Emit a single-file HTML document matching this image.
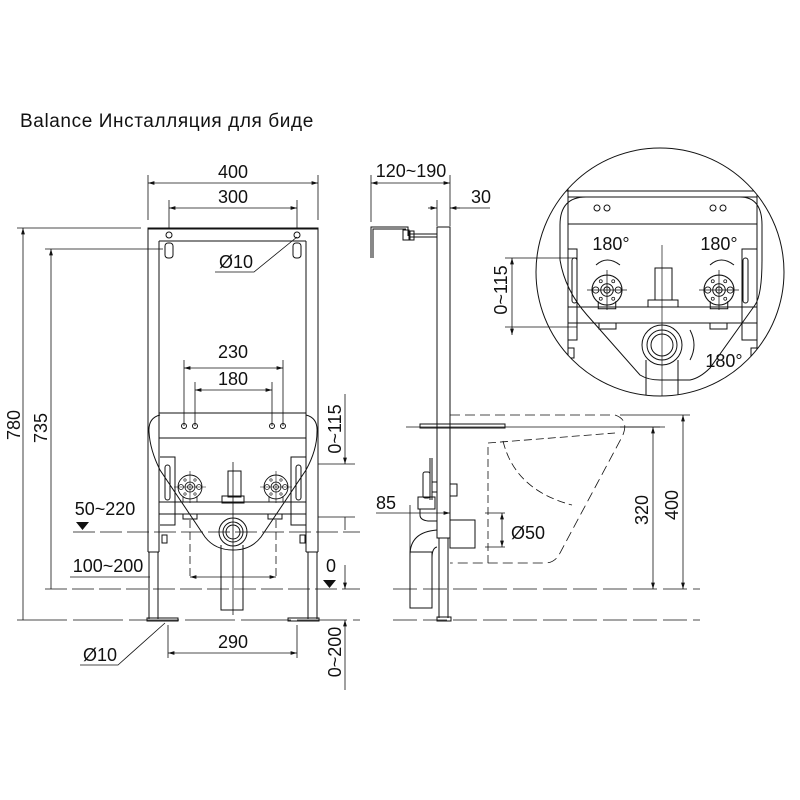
<!DOCTYPE html>
<html><head><meta charset="utf-8"><style>
html,body{margin:0;padding:0;background:#fff}
svg{display:block}
text{font-family:"Liberation Sans","DejaVu Sans",sans-serif;fill:#111}
</style></head><body>
<svg width="800" height="800" viewBox="0 0 800 800" xmlns="http://www.w3.org/2000/svg">
<defs>
<marker id="a" viewBox="0 0 10 6" refX="10" refY="3" markerWidth="8" markerHeight="5" orient="auto-start-reverse"><path d="M0,0L10,3L0,6z" fill="#111"/></marker>
<g id="fit">
<circle r="12" fill="none" stroke="#111" stroke-width="0.9"/>
<circle r="5" fill="none" stroke="#111" stroke-width="0.8"/><circle r="2.5" fill="none" stroke="#111" stroke-width="0.8"/>
<circle cx="-9" r="2.5" fill="none" stroke="#111" stroke-width="0.7"/><circle cx="9" r="2.5" fill="none" stroke="#111" stroke-width="0.7"/>
<circle cx="-5" cy="-7" r="1.2" fill="none" stroke="#111" stroke-width="0.6"/><circle cx="5" cy="-7" r="1.2" fill="none" stroke="#111" stroke-width="0.6"/>
<circle cx="-5" cy="7" r="1.2" fill="none" stroke="#111" stroke-width="0.6"/><circle cx="5" cy="7" r="1.2" fill="none" stroke="#111" stroke-width="0.6"/>
<path d="M-16,0H16M0,-16V16" stroke="#111" stroke-width="0.6"/>
<path d="M-7,9V15H7V9" fill="none" stroke="#111" stroke-width="0.8"/>
</g>
<clipPath id="cc"><circle cx="660" cy="272" r="124"/></clipPath>
</defs>
<text x="20" y="127" font-size="19" letter-spacing="0.6">Balance Инсталляция для биде</text>

<g fill="none" stroke="#111" stroke-width="1">
<rect x="148" y="228" width="170" height="1"/>
<path d="M148,228V552M159,241V552M306,241V552M318,228V552M148,552H159M306,552H318"/>
<path d="M159,241H306M148,228H318"/>
<path d="M149,552V619M158,552V619M308,552V619M317,552V619"/>
<rect x="147" y="618" width="31" height="3"/><rect x="288" y="618" width="31" height="3"/>
<circle cx="169" cy="235" r="3"/><circle cx="297" cy="235" r="3"/>
<rect x="165" y="243" width="8" height="15" rx="3"/><rect x="293" y="243" width="8" height="15" rx="3"/>
<path d="M159,413H306M159,438H306"/>
<circle cx="184" cy="426" r="2.5"/><circle cx="195" cy="426" r="2.5"/><circle cx="272" cy="426" r="2.5"/><circle cx="283" cy="426" r="2.5"/>
<path d="M160,415Q148,418 149,432Q150,450 160,470L205,537Q215,550 233,550Q251,550 261,537L306,470Q317,450 317,432Q318,418 306,415"/>
<path d="M160,457H175V525H160M306,457H291V525H306"/>
<rect x="165" y="465" width="5" height="35" rx="2.5"/><rect x="296" y="465" width="5" height="35" rx="2.5"/>
<path d="M159,502H306M159,514H306"/>
<rect x="183" y="514" width="14" height="5"/><rect x="268" y="514" width="14" height="5"/>
<rect x="228" y="471" width="13" height="26"/><rect x="222" y="496" width="22" height="7"/>
<circle cx="233" cy="532" r="14"/><circle cx="233" cy="532" r="7"/><circle cx="233" cy="532" r="10"/>
<path d="M221,545V610H243V545"/>
<rect x="162" y="535" width="5" height="8"/><rect x="300" y="535" width="5" height="8"/>
</g>
<use href="#fit" x="190" y="487"/><use href="#fit" x="276" y="487"/>
<g fill="none" stroke="#111" stroke-width="0.8">
<path d="M233,462V615"/>
<path d="M148,175V220M318,175V220M169,200V228M297,200V228"/>
<path d="M148,183H318" marker-start="url(#a)" marker-end="url(#a)"/>
<path d="M169,208H297" marker-start="url(#a)" marker-end="url(#a)"/>
<path d="M297,237L254,272H215"/>
<path d="M17,228H141M45,249H163"/>
<path d="M23,620V228" marker-end="url(#a)"/>
<path d="M51,589V249" marker-end="url(#a)"/>
<path d="M184,360V426M195,382V426M272,382V426M283,360V426"/>
<path d="M184,368H283" marker-start="url(#a)" marker-end="url(#a)"/>
<path d="M195,390H272" marker-start="url(#a)" marker-end="url(#a)"/>
<path d="M73,532H360" stroke-dasharray="22,5"/>
<path d="M45,589H360" stroke-dasharray="22,5"/>
<path d="M17,620H360" stroke-dasharray="50,6"/>
<path d="M190,520V580M276,520V580" stroke-dasharray="8,4"/>
<path d="M70,577H150"/>
<path d="M190,577H276" marker-start="url(#a)" marker-end="url(#a)"/>
<path d="M318,464H355M318,517H355"/>
<path d="M345,394V464" marker-end="url(#a)"/><path d="M345,517V530"/>
<path d="M345,565V589" marker-end="url(#a)"/><path d="M345,690V620" marker-end="url(#a)"/>
<path d="M168,625V658M297,625V658"/>
<path d="M168,653H297" marker-start="url(#a)" marker-end="url(#a)"/>
<path d="M165,623L118,665H80"/>
</g>
<path d="M76,522H89L82.5,530z" fill="#111"/><path d="M323,580H336L329.5,588z" fill="#111"/>
<g font-size="18" text-anchor="middle">
<text x="233" y="178">400</text><text x="233" y="203">300</text>
<text x="233" y="358">230</text><text x="233" y="385">180</text>
<text x="233" y="648">290</text>
<text x="236" y="268">Ø10</text><text x="100" y="661">Ø10</text>
<text x="105" y="515">50~220</text><text x="108" y="572">100~200</text>
<text x="331" y="572">0</text>
<text transform="translate(20,425) rotate(-90)">780</text>
<text transform="translate(47,428) rotate(-90)">735</text>
<text transform="translate(341,429) rotate(-90)">0~115</text>
<text transform="translate(341,652) rotate(-90)">0~200</text>
</g>

<g fill="none" stroke="#111" stroke-width="1">
<rect x="437" y="227" width="13" height="311"/>
<path d="M439,538V618M448,538V618"/><rect x="437" y="617" width="14" height="4"/>
<path d="M371,258V227H408V236M373,258V229H406"/>
<rect x="403" y="230" width="6" height="10"/><path d="M409,234H437M409,237H437"/><rect x="410" y="231" width="4" height="9"/>
<rect x="420" y="424" width="85" height="4"/>
<path d="M430,458V500M432,458V500"/>
<rect x="423" y="472" width="7" height="26" rx="2"/>
<rect x="418" y="497" width="17" height="12"/>
<rect x="432" y="482" width="5" height="10"/><rect x="450" y="484" width="7" height="12"/>
<path d="M420,509V515Q420,520 428,521H437"/>
<rect x="450" y="520" width="25" height="28"/>
<path d="M410,608V555Q410,532 437,530M432,608V558Q432,548 437,547"/>
<rect x="410" y="552" width="22" height="56"/>
</g>
<g fill="none" stroke="#111" stroke-width="0.8">
<path d="M450,415H615Q630,420 622,437L560,553Q555,563 545,563H450" stroke-dasharray="10,5"/>
<path d="M488,563V443L615,433" stroke-dasharray="8,4"/>
<path d="M503,441Q515,490 572,505" stroke-dasharray="8,4"/>
<path d="M406,427H660"/>
<path d="M620,415H690M620,427H665"/>
<path d="M393,589H700M393,620H700" stroke-dasharray="24,6"/>
<path d="M653,427V589" marker-start="url(#a)" marker-end="url(#a)"/>
<path d="M683,415V589" marker-start="url(#a)" marker-end="url(#a)"/>
<path d="M371,175V222M450,175V226M437,200V226"/>
<path d="M371,183H450" marker-start="url(#a)" marker-end="url(#a)"/>
<path d="M428,208H437" marker-end="url(#a)"/><path d="M460,208H450" marker-end="url(#a)"/><path d="M450,208H490"/>
<path d="M376,513H450" marker-end="url(#a)"/><path d="M410,505V560"/>
<path d="M485,513H505M485,547H505"/><path d="M502,513V547" marker-start="url(#a)" marker-end="url(#a)"/>
</g>
<g font-size="18" text-anchor="middle">
<text x="411" y="177">120~190</text><text x="481" y="203">30</text>
<text x="386" y="509">85</text><text x="528" y="539">Ø50</text>
<text transform="translate(648,510) rotate(-90)">320</text>
<text transform="translate(678,505) rotate(-90)">400</text>
</g>

<g clip-path="url(#cc)" fill="none" stroke="#111" stroke-width="1">
<path d="M568,140V400M757,140V400M560,191H770M568,197H757M568,224H757M568,307H757M568,323H757"/>
<path d="M586,197Q560,197 560,225V260Q565,290 587,315L640,375Q648,380 660,380H690Q700,378 710,368L755,305Q762,295 762,260V225Q762,197 740,197"/>
<circle cx="597" cy="208" r="3"/><circle cx="607" cy="208" r="3"/><circle cx="713" cy="208" r="3"/><circle cx="723" cy="208" r="3"/>
<path d="M568,249H577V340H568M757,249H742V340H757"/>
<rect x="572" y="258" width="5" height="45" rx="2.5"/><rect x="743" y="258" width="5" height="45" rx="2.5"/>
<rect x="599" y="323" width="17" height="6"/><rect x="710" y="323" width="17" height="6"/>
<rect x="655" y="268" width="17" height="32"/><rect x="648" y="300" width="30" height="7"/>
<circle cx="662" cy="345" r="20"/><circle cx="662" cy="345" r="11"/><circle cx="662" cy="345" r="15"/>
<path d="M646,360V400M678,360V400"/>
<path d="M596,265Q607,255 620,265M710,265Q721,255 734,265M690,330Q698,345 690,360"/>
<rect x="568" y="348" width="6" height="10"/><rect x="751" y="348" width="6" height="10"/>
<path d="M662,245V400" stroke-width="0.7"/>
</g>
<g clip-path="url(#cc)">
<g transform="translate(607,290) scale(1.25)"><use href="#fit"/></g>
<g transform="translate(719,290) scale(1.25)"><use href="#fit"/></g>
</g>
<circle cx="660" cy="272" r="124" fill="none" stroke="#111" stroke-width="1"/>
<g fill="none" stroke="#111" stroke-width="0.8">
<path d="M505,258H577M505,327H577"/>
<path d="M512,258V335" marker-start="url(#a)" marker-end="url(#a)"/>
</g>
<g font-size="18" text-anchor="middle">
<text x="611" y="250">180°</text><text x="719" y="250">180°</text><text x="724" y="367">180°</text>
<text transform="translate(507,290) rotate(-90)">0~115</text>
</g>
</svg>
</body></html>
